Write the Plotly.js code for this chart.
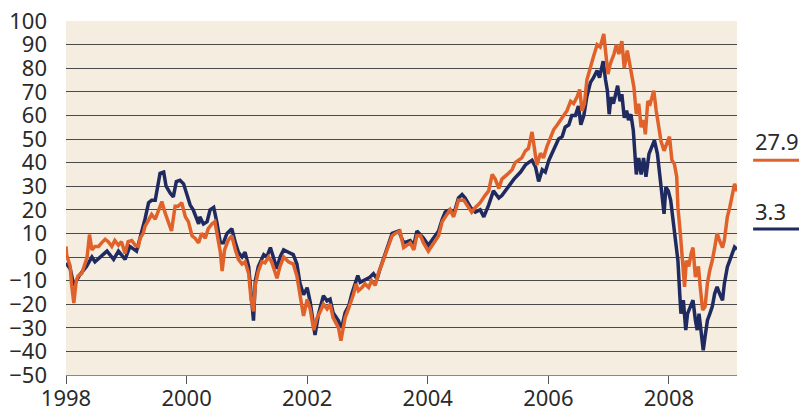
<!DOCTYPE html>
<html>
<head>
<meta charset="utf-8">
<script src="https://cdn.plot.ly/plotly-3.0.1.min.js"></script>
<style>
html,body{margin:0;padding:0;background:#fff;}
#chart{width:799px;height:412px;}
</style>
</head>
<body>
<div id="chart"></div>
<script>
// Orange series (decimal year, value %)
const orangeYears = [1998.00,1998.01,1998.07,1998.09,1998.13,1998.17,1998.20,1998.26,1998.32,1998.35,1998.39,1998.43,1998.48,1998.54,1998.59,1998.65,1998.70,1998.76,1998.81,1998.87,1998.92,1998.98,1999.03,1999.09,1999.15,1999.20,1999.23,1999.28,1999.31,1999.37,1999.42,1999.48,1999.53,1999.59,1999.64,1999.70,1999.75,1999.81,1999.86,1999.92,1999.98,2000.03,2000.09,2000.14,2000.20,2000.25,2000.31,2000.36,2000.42,2000.47,2000.52,2000.56,2000.59,2000.63,2000.69,2000.75,2000.81,2000.86,2000.92,2000.97,2001.03,2001.07,2001.11,2001.14,2001.19,2001.25,2001.30,2001.36,2001.41,2001.50,2001.55,2001.61,2001.69,2001.77,2001.83,2001.88,2001.94,2002.00,2002.05,2002.11,2002.16,2002.22,2002.27,2002.33,2002.38,2002.43,2002.47,2002.52,2002.56,2002.59,2002.63,2002.67,2002.71,2002.77,2002.81,2002.85,2002.91,2002.96,2003.02,2003.07,2003.13,2003.18,2003.24,2003.30,2003.35,2003.41,2003.46,2003.54,2003.60,2003.66,2003.71,2003.77,2003.82,2003.88,2003.93,2004.01,2004.10,2004.18,2004.24,2004.29,2004.37,2004.43,2004.51,2004.60,2004.65,2004.73,2004.79,2004.87,2004.95,2005.01,2005.07,2005.12,2005.18,2005.23,2005.32,2005.40,2005.45,2005.51,2005.56,2005.62,2005.67,2005.73,2005.77,2005.81,2005.87,2005.92,2005.98,2006.03,2006.09,2006.15,2006.20,2006.26,2006.31,2006.37,2006.42,2006.48,2006.52,2006.56,2006.60,2006.64,2006.70,2006.75,2006.81,2006.86,2006.92,2006.95,2006.99,2007.03,2007.09,2007.13,2007.17,2007.22,2007.26,2007.31,2007.35,2007.39,2007.42,2007.46,2007.50,2007.54,2007.58,2007.61,2007.65,2007.69,2007.75,2007.79,2007.83,2007.87,2007.92,2007.97,2008.01,2008.05,2008.09,2008.13,2008.15,2008.19,2008.23,2008.26,2008.29,2008.33,2008.37,2008.40,2008.44,2008.49,2008.52,2008.56,2008.60,2008.64,2008.68,2008.72,2008.76,2008.80,2008.84,2008.89,2008.92,2008.97,2009.01,2009.05,2009.09,2009.13];
const orangeValues = [4.5,1,-4,-11,-19.5,-10,-8,-7,-2.5,0,9.5,3,4.5,4.5,6,7.5,6.5,4.5,7,5,6.5,1.5,6.5,7,5,4.5,8,10,13,16,18,16,19,23.5,19,14,11,21.5,21.5,23,17,15,9,8,6,10,8,12,14,15,8,2,-6,3,7,9,3,-1,-3,-2,-7,-18,-23,-12,-6,-2,-2.5,0,-2,-9,-4,0,-2,-3,-8,-16,-25,-18,-22,-31,-26,-23,-20,-22,-20,-25.7,-28,-30,-35.5,-30.7,-25.7,-23,-20,-15.7,-11.4,-14.3,-12.9,-11.4,-12.9,-10,-12,-7,-3,1,4,9,10,11,4,5,6,3,9,9,6,2.5,6,9,15,17,20,17,24,24,22,19,21,23,26,28,35,33,29,33,35,37,40,41,42,45,46,53,45,39,44,42,47,50,54,56,58,60,62,66,65,68,71,62,65,75,81,85,90,89,94.5,87.5,77.5,82,86,90,86,91.5,80,87.5,82,77.5,72,60.5,65,55,58,52,66,65,70.5,62,56,49,45,49,51,41,39.5,34,21,10,-1.5,-12.7,-1.5,-4,1.5,4,-8.5,-4,-12.7,-22.5,-21,-11,-5.5,-1.5,4,10,7,4,7,17,21,25.5,31,27.9];

// Navy series (decimal year, value %)
const navyYears = [1998.00,1998.07,1998.13,1998.23,1998.34,1998.43,1998.48,1998.56,1998.68,1998.79,1998.87,1998.98,1999.06,1999.17,1999.26,1999.31,1999.37,1999.42,1999.48,1999.51,1999.56,1999.62,1999.66,1999.73,1999.78,1999.83,1999.89,1999.95,2000.00,2000.06,2000.11,2000.14,2000.20,2000.22,2000.28,2000.34,2000.39,2000.45,2000.50,2000.56,2000.61,2000.67,2000.75,2000.81,2000.86,2000.92,2000.97,2001.03,2001.07,2001.11,2001.14,2001.19,2001.28,2001.33,2001.39,2001.44,2001.50,2001.55,2001.61,2001.69,2001.77,2001.83,2001.88,2001.94,2002.00,2002.05,2002.13,2002.19,2002.22,2002.27,2002.33,2002.38,2002.43,2002.47,2002.52,2002.56,2002.59,2002.63,2002.69,2002.74,2002.80,2002.84,2002.88,2002.94,2002.99,2003.04,2003.10,2003.16,2003.20,2003.30,2003.41,2003.52,2003.60,2003.71,2003.77,2003.82,2003.93,2004.01,2004.10,2004.18,2004.24,2004.29,2004.37,2004.43,2004.51,2004.57,2004.62,2004.71,2004.79,2004.87,2004.93,2005.01,2005.09,2005.18,2005.23,2005.32,2005.43,2005.54,2005.62,2005.67,2005.73,2005.79,2005.84,2005.90,2005.95,2006.01,2006.06,2006.12,2006.17,2006.23,2006.28,2006.34,2006.39,2006.45,2006.50,2006.54,2006.59,2006.64,2006.70,2006.75,2006.81,2006.85,2006.91,2006.95,2006.98,2007.01,2007.04,2007.08,2007.12,2007.15,2007.19,2007.22,2007.26,2007.30,2007.33,2007.37,2007.41,2007.43,2007.46,2007.50,2007.54,2007.58,2007.62,2007.67,2007.72,2007.76,2007.81,2007.85,2007.89,2007.92,2007.95,2007.99,2008.03,2008.07,2008.11,2008.15,2008.18,2008.20,2008.24,2008.28,2008.31,2008.36,2008.40,2008.44,2008.47,2008.50,2008.54,2008.57,2008.60,2008.64,2008.68,2008.72,2008.76,2008.80,2008.84,2008.89,2008.92,2008.97,2009.01,2009.05,2009.09,2009.13];
const navyValues = [-2.5,-5,-12,-7.5,-4,0,-2,0,2.5,-1,2.5,-1,4.5,2.5,11,16,23,24,24,28.5,35.5,36,30,27,25.5,32,32.5,31,27,22,20,18,14,17,14,15,20,21,15,6,6,10,12,6,2,0,2,-4,-14,-27,-10,-4,1,0,4,0,-5,0,3,2,1,-3,-11,-16,-13,-19,-33,-24,-20.7,-16.4,-18.6,-17.9,-23.6,-25,-27,-30,-28,-23.6,-20.7,-15.7,-11.4,-7.9,-10.7,-10,-9.3,-8.6,-7.1,-9.3,-5.7,2,10,11,6,7,5,11,8,5,8,11,16,19,20,18,25,26.5,25,21,19,20,17,22,28,25,26,29,33,36,39,40,41,38,32,37,36,41,44,47,50,51,55,56,60,60,64,56,60,68,74,76,79,76,83,75,70.5,60.5,67.7,65,70.5,72.6,66,69,59,62,58,60.5,53.6,43.7,35,42,35,42,34,43.7,46.5,49.4,43.7,35,27,18.3,29.6,28,24,15.5,10,-1.5,-15.5,-24,-18.3,-31,-24,-21,-18.3,-26.8,-31,-24,-33.8,-39.5,-33.8,-26.8,-24,-21,-15.5,-12.7,-15.5,-18.3,-11.3,-4.2,-1.4,1.4,4.2,3.3];

const xTickYears = [1998, 2000, 2002, 2004, 2006, 2008];
const endLabels = ['27.9', '3.3'];

const ORANGE = '#e0622a';
const NAVY = '#1f2a60';
const FONT = 'Noto Sans, Open Sans, sans-serif';
const TXT = '#2a2a2a';

const traces = [
  {x: navyYears, y: navyValues, type: 'scatter', mode: 'lines',
   line: {color: NAVY, width: 3.5}, hoverinfo: 'skip', showlegend: false},
  {x: orangeYears, y: orangeValues, type: 'scatter', mode: 'lines',
   line: {color: ORANGE, width: 3.5}, hoverinfo: 'skip', showlegend: false}
];

const layout = {
  width: 799, height: 412,
  margin: {l: 66, r: 62, t: 21, b: 37},
  paper_bgcolor: '#ffffff',
  plot_bgcolor: '#f5ede0',
  showlegend: false,
  font: {family: FONT, color: TXT, size: 22},
  xaxis: {
    range: [1998, 2009.13],
    tickvals: xTickYears,
    ticktext: xTickYears.map(String),
    ticks: 'outside', ticklen: 8, tickcolor: '#555', tickwidth: 1,
    showline: true, linecolor: '#888', linewidth: 1,
    showgrid: false, zeroline: false,
    ticklabelstandoff: -4,
    tickfont: {family: FONT, size: 22, color: TXT},
    fixedrange: true
  },
  yaxis: {
    range: [-50, 100],
    dtick: 10, tick0: 0,
    ticks: '', showline: false,
    showgrid: true, gridcolor: '#4a4a4a', gridwidth: 1,
    zeroline: false,
    ticklabelstandoff: 18,
    tickfont: {family: FONT, size: 22, color: TXT},
    fixedrange: true
  },
  shapes: [
    {type: 'line', xref: 'paper', yref: 'y', x0: 1.024, x1: 1.1, y0: 41, y1: 41,
     line: {color: ORANGE, width: 3}},
    {type: 'line', xref: 'paper', yref: 'y', x0: 1.024, x1: 1.1, y0: 11.9, y1: 11.9,
     line: {color: NAVY, width: 3}}
  ],
  annotations: [
    {xref: 'paper', yref: 'y', x: 1.024, y: 49, text: endLabels[0], showarrow: false,
     xanchor: 'left', yanchor: 'middle', font: {family: FONT, size: 22, color: TXT}},
    {xref: 'paper', yref: 'y', x: 1.024, y: 19.6, text: endLabels[1], showarrow: false,
     xanchor: 'left', yanchor: 'middle', font: {family: FONT, size: 22, color: TXT}}
  ]
};

Plotly.newPlot('chart', traces, layout, {staticPlot: true, displayModeBar: false});
</script>
</body>
</html>
